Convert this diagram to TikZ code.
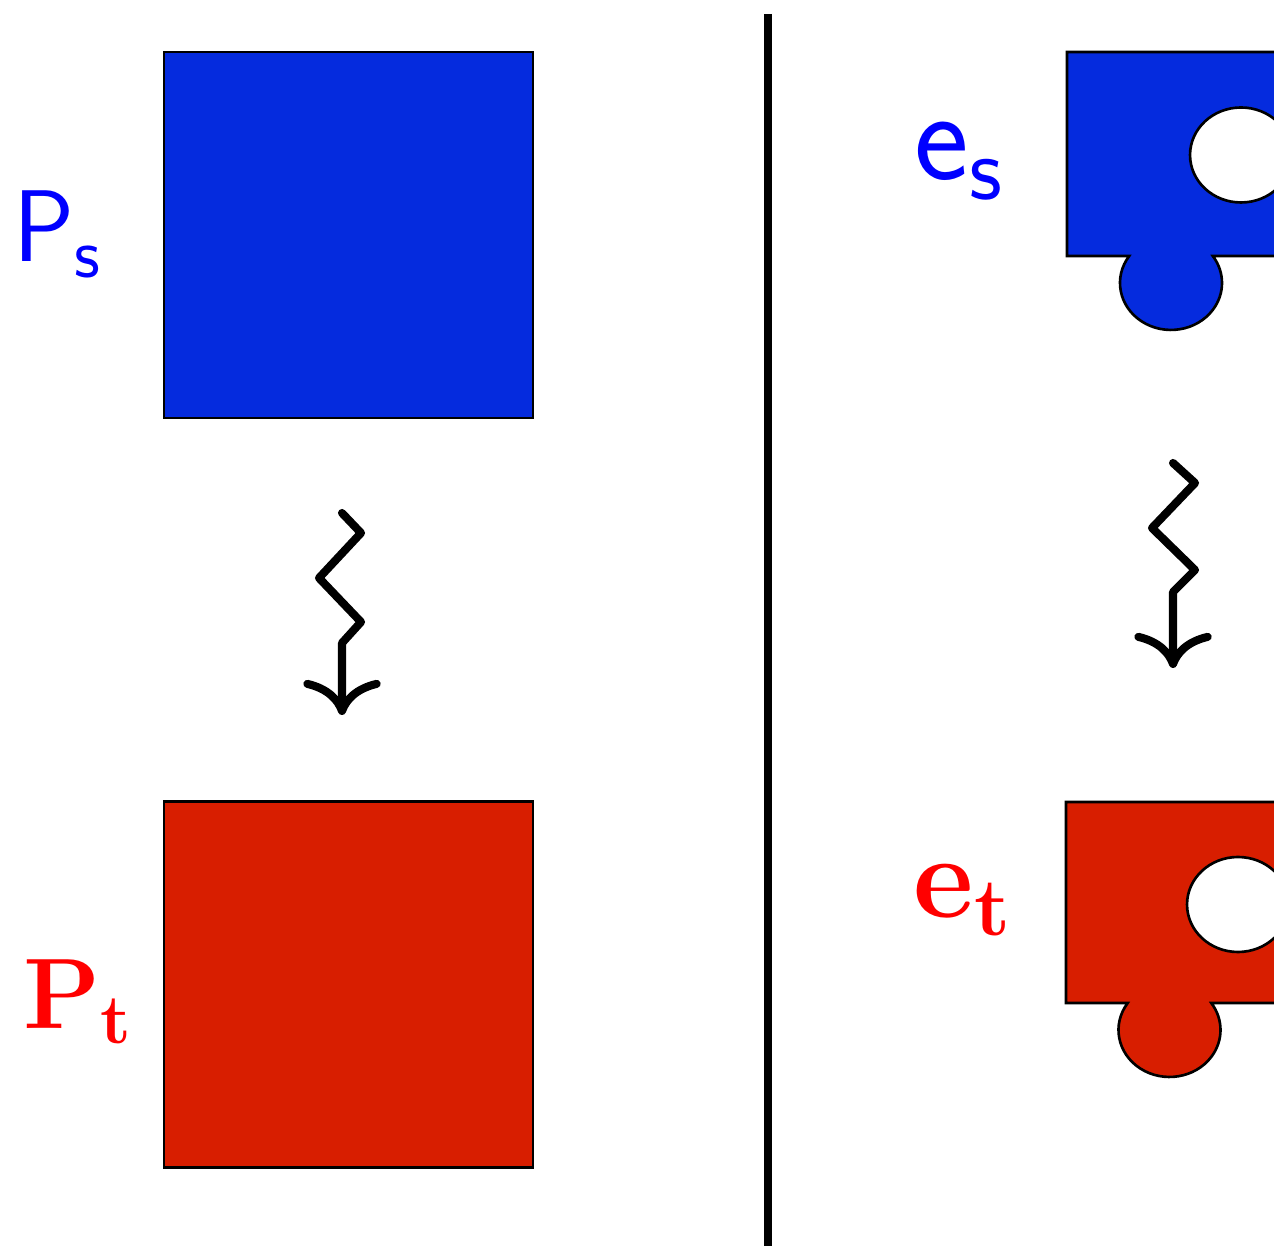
\documentclass[tikz,border=0pt]{standalone}
\usepackage{fix-cm}
\usepackage{amsmath}
\usepackage{tikz}
\usepackage{xcolor}
\usetikzlibrary{arrows.meta}

\definecolor{srcfill}{RGB}{5,43,222}
\definecolor{tgtfill}{RGB}{216,30,0}

\begin{document}
\begin{tikzpicture}[x=0.01cm,y=0.01cm,
    patch/.style={draw=black,line width=0.75pt,inner sep=0pt,minimum width=3.69cm,minimum height=3.66cm},
    piece/.style={draw=black,line width=0.75pt},
    lab/.style={inner sep=0pt,anchor=base west},
    squiggle/.style={line width=2.3pt,line cap=round,line join=round,
        -{Computer Modern Rightarrow[length=10pt,width=22pt]}}]
    \useasboundingbox (0,0) rectangle (1274,1246);
    % left half: patches
    \node[patch,fill=srcfill] (srcbox) at (348.5,1011) {};
    \node[patch,fill=tgtfill] (tgtbox) at (348.5,261.5) {};
    \node[lab,text=blue] (srclab) at (13,984) {\fontsize{29}{34}\selectfont$\mathsf{P}_{\mathsf{s}}$};
    \node[lab,text=red] (tgtlab) at (23,218) {\fontsize{28.5}{34}\selectfont$\mathbf{P}_{\mathbf{t}}$};
    \coordinate (srcz) at (342,733);
    \coordinate (tgtz) at (342,531);
    \draw[squiggle] (srcz) -- ++(19,-20) -- ++(-42,-45) -- ++(42,-44) -- ++(-19,-21) -- (tgtz);
    % divider
    \coordinate (divtop) at (768,1232);
    \coordinate (divbot) at (768,0);
    \draw[line width=2.1pt] (divtop) -- (divbot);
    % right half: pieces
    \draw[piece,fill=srcfill] (1300,1194) -| (1067,990) -- (1129.2,990)
        arc[start angle=145,end angle=395,x radius=51,y radius=47] -- (1300,990);
    \draw[piece,fill=white] (1241,1091) ellipse [x radius=51,y radius=47.5];
    \draw[piece,fill=tgtfill] (1300,444) -| (1066,243) -- (1127.7,243)
        arc[start angle=145,end angle=395,x radius=51,y radius=47] -- (1300,243);
    \draw[piece,fill=white] (1238,341.5) ellipse [x radius=51,y radius=47.5];
    \node[lab,text=blue] (srcelab) at (914,1066) {\fontsize{37}{42}\selectfont$\mathsf{e}_{\mathsf{s}}$};
    \node[lab,text=red] (tgtelab) at (913,328) {\fontsize{33.5}{38}\selectfont$\mathbf{e}_{\mathbf{t}}$};
    \coordinate (srcpz) at (1173,783);
    \coordinate (tgtpz) at (1173,578);
    \draw[squiggle] (srcpz) -- ++(22,-20) -- ++(-43,-45) -- ++(43,-42) -- ++(-22,-22) -- (tgtpz);
\end{tikzpicture}
\end{document}
